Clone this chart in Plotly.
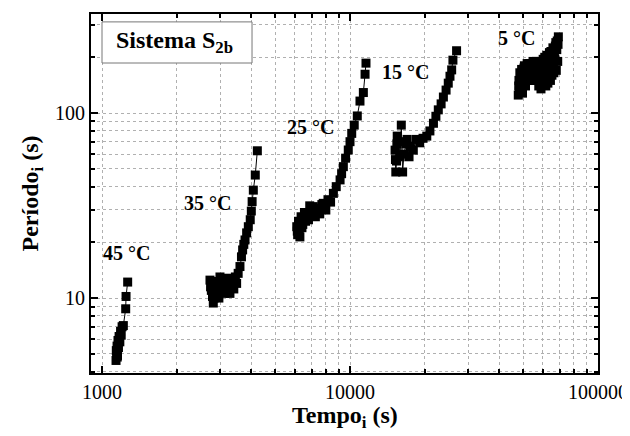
import plotly.graph_objects as go

# tempo (s) e periodo (s) para cada temperatura
t45 = [1139, 1142, 1145, 1150, 1152, 1155, 1160, 1165, 1172, 1180, 1188, 1195, 1205, 1219, 1246, 1250, 1269]
p45 = [4.6, 5.2, 5.0, 5.5, 4.8, 4.9, 5.9, 5.4, 6.2, 5.8, 6.6, 6.3, 7.0, 7.1, 8.75, 10.2, 12.2]

t35 = [2725, 2740, 2760, 2790, 2810, 2830, 2850, 2880, 2920, 2960, 2990, 3030, 3080, 3130,
       3180, 3230, 3280, 3330, 3400, 3450, 3490, 3540, 3600, 3650, 3690, 3730, 3773, 3830,
       3890, 3960, 4000, 4030, 4075, 4150, 4230]
p35 = [12.5, 11.5, 11.0, 10.2, 9.4, 10.0, 10.8, 12.3, 11.6, 10.0, 13.0, 11.0, 12.2, 10.6,
       11.5, 12.8, 10.6, 12.0, 11.2, 13.0, 12.0, 13.6, 14.8, 16.7, 18.2, 19.5, 20.6, 22.5,
       24.3, 26.5, 29.5, 33.2, 38.3, 46.2, 62.5]

t25 = [6100, 6130, 6150, 6200, 6240, 6280, 6350, 6400, 6450, 6550, 6620, 6690, 6800, 6880,
       7000, 7110, 7250, 7400, 7550, 7700, 7800, 7990, 8150, 8350, 8570, 8800, 9120, 9250,
       9400, 9600, 9840, 10000, 10160, 10400, 10700, 10970, 11320, 11500, 11600]
p25 = [24.3, 23.0, 22.0, 26.0, 23.5, 21.4, 27.5, 24.0, 25.0, 29.0, 26.0, 28.7, 26.5, 31.5,
       29.0, 31.2, 27.5, 30.5, 28.5, 32.0, 32.5, 29.9, 34.0, 33.0, 36.8, 40.0, 43.5, 47.0,
       51.3, 57.0, 63.1, 70.0, 77.6, 86.0, 96.4, 116, 129, 162, 186]

t15 = [15200, 15250, 15300, 15400, 15450, 15500, 15700, 15900, 16100, 16300, 16500, 16800,
       17000, 17300, 17500, 18000, 18500, 19100, 19700, 20400, 21000, 21700, 22200, 22700,
       23300, 23800, 24400, 24900, 25300, 25700, 26000, 26900]
p15 = [63, 56, 48, 55, 68, 75, 70, 58, 86, 48, 60, 68,
       72, 58, 66, 63, 72, 69, 73, 75, 80, 88, 96, 104,
       112, 122, 133, 145, 158, 171, 193, 217]

t5 = [47700, 47900, 48000, 48200, 48400, 48600, 48800, 49000, 49200, 49400, 49600, 49800,
      50000, 50300, 50500, 50800, 51000, 51300, 51500, 51800, 52000, 52300, 52600, 52900,
      53200, 53500, 53800, 54100, 54400, 54700, 55000, 55300, 55600, 55900, 56200, 56500,
      56800, 57100, 57400, 57700, 58000, 58300, 58600, 58900, 59200, 59500, 59800, 60100,
      60400, 60700, 61000, 61300, 61600, 61900, 62200, 62500, 62800, 63100, 63400, 63700,
      64000, 64300, 64600, 64900, 65200, 65500, 65800, 66100, 66400, 66700, 67000, 67300,
      67600, 67900, 68200, 68500, 68800, 69000, 69200]
p5 = [125, 140, 150, 130, 165, 145, 135, 160, 172, 140, 128, 155,
      160, 175, 180, 150, 140, 165, 175, 185, 150, 170, 160, 185,
      150, 172, 158, 182, 170, 190, 175, 160, 150, 180, 160, 190,
      175, 150, 185, 140, 170, 155, 180, 135, 190, 150, 160, 195,
      175, 145, 200, 160, 140, 180, 205, 150, 145, 190, 170, 212,
      185, 150, 215, 175, 160, 200, 225, 180, 165, 210, 195, 230,
      240, 170, 220, 245, 190, 235, 258]

series = [(t45, p45), (t35, p35), (t25, p25), (t15, p15), (t5, p5)]
temp_labels = ["45 °C", "35 °C", "25 °C", "15 °C", "5 °C"]

serif = "Liberation Serif"

fig = go.Figure()
for tx, py in series:
    fig.add_trace(go.Scatter(x=tx, y=py, mode="lines+markers",
                             line=dict(color="black", width=1),
                             marker=dict(symbol="square", size=9, color="black"),
                             showlegend=False))

# posicoes dos rotulos (log10)
lab_x = [3.097, 3.427, 3.839, 4.222, 4.673]
lab_y = [1.243, 1.514, 1.924, 2.222, 2.405]
for txt, lx, ly in zip(temp_labels, lab_x, lab_y):
    fig.add_annotation(x=lx, y=ly, text="<b>" + txt + "</b>", showarrow=False,
                       font=dict(family=serif, size=20, color="black"))

fig.add_shape(type="rect", xref="paper", yref="paper", x0=0.0217, x1=0.3176, y0=0.8635, y1=0.978,
              line=dict(color="#777777", width=1), fillcolor="white", layer="above")
fig.add_annotation(xref="paper", yref="paper", x=0.045, y=0.921, xanchor="left", yanchor="middle",
                   showarrow=False,
                   text="<b>Sistema S</b><sub><b>2b</b></sub>", font=dict(family=serif, size=24, color="black"))

# titulo do eixo x como anotacao, para subir um pouco
fig.add_annotation(xref="paper", yref="paper", x=0.5, y=-0.074, xanchor="center", yanchor="top",
                   showarrow=False,
                   text="<b>Tempo<sub>i</sub> (s)</b>", font=dict(family=serif, size=24, color="black"))

axis_common = dict(type="log", dtick=1, tickformat="d", showline=True, linecolor="black", linewidth=2,
                   mirror="allticks", ticks="inside", ticklen=7, tickwidth=1.5, tickcolor="black",
                   tickfont=dict(family=serif, size=20, color="black"), zeroline=False,
                   showgrid=True, gridcolor="#b0b0b0", griddash="dot", gridwidth=1, automargin=False,
                   minor=dict(dtick="D1", ticks="inside", ticklen=4, tickcolor="black", showgrid=True,
                              gridcolor="#b0b0b0", griddash="dot"))

fig.update_xaxes(range=[2.9556, 5.0], **axis_common)
fig.update_yaxes(range=[0.595, 2.535],
                 title=dict(text="<b>Período<sub>i</sub> (s)</b>", font=dict(family=serif, size=24, color="black"),
                            standoff=10),
                 **axis_common)

# a pagina tem 8 px de margem no body; descontados aqui
fig.update_layout(width=622, height=428, margin=dict(l=83, r=32, t=6, b=63),
                  plot_bgcolor="white", paper_bgcolor="white")

fig.write_html("out.html")
